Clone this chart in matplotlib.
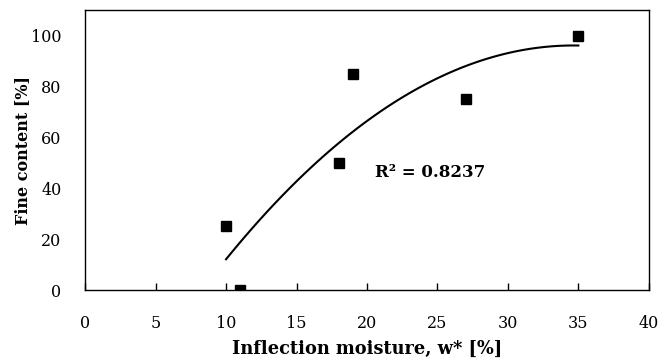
import numpy as np
import matplotlib
matplotlib.use("Agg")
from matplotlib import pyplot as plt

plt.rcParams['font.family'] = ['DejaVu Serif']

moisture = [10, 11, 18, 19, 27, 35]
fines = [25, 0, 50, 85, 75, 100]
r2_label = "R² = 0.8237"

# second order trend line, like the spreadsheet one
coef = np.polyfit(moisture, fines, 2)
xs = np.linspace(min(moisture), max(moisture), 100)
ys = np.polyval(coef, xs)

fig = plt.figure(figsize=(6.6, 3.63), dpi=100)
ax = fig.add_axes([0.129, 0.201, 0.854, 0.771])

ax.plot(xs, ys, color='black', lw=1.5)
ax.plot(moisture, fines, 's', color='black', ms=6.5, ls='none')

ax.set_xlim(0, 40)
ax.set_ylim(0, 110)
ax.set_xticks(range(0, 41, 5))
ax.set_yticks(range(0, 101, 20))
ax.tick_params(axis='x', direction='in', length=5, width=1, labelsize=11.5, pad=18)
ax.tick_params(axis='y', length=0, labelsize=11.5, pad=17)
for s in ax.spines.values():
    s.set_linewidth(1)

ax.text(20.6, 46, r2_label, fontsize=12, fontweight='bold', va='center')
ax.set_xlabel('Inflection moisture, w* [%]', fontsize=12.8, fontweight='bold', labelpad=6)
ax.set_ylabel('Fine content [%]', fontsize=11.5, fontweight='bold', labelpad=0)

fig.savefig('out.png', dpi=100)
